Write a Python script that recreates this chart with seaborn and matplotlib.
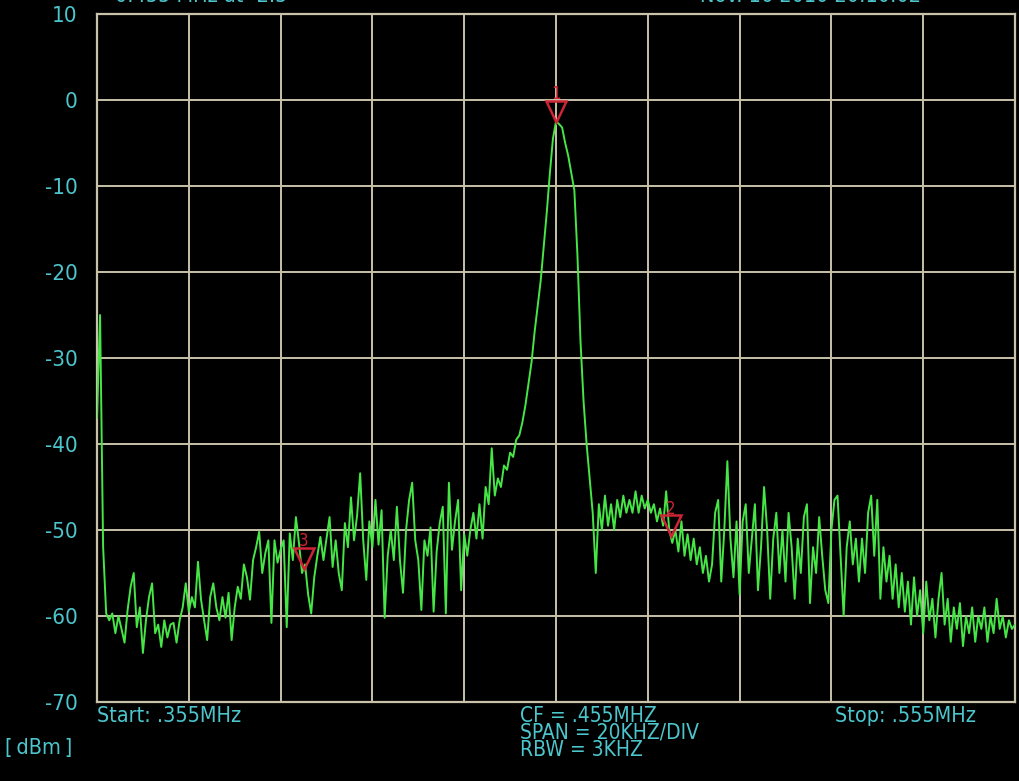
import numpy as np
import pandas as pd
import seaborn as sns
import matplotlib
matplotlib.use("Agg")
import matplotlib.pyplot as plt
from matplotlib.markers import MarkerStyle
from matplotlib.transforms import Affine2D

# Sweep settings (MHz)
start_mhz = 0.355
stop_mhz = 0.555
n_points = 301

# Measured level per sweep point (dBm)
level_dbm = [
    -37, -25, -52, -59.7, -60.5, -59.7, -62, -60, -61.5, -63.1,
    -59.3, -56.6, -55, -61.3, -59, -64.3, -60.5, -57.8, -56.2, -62,
    -61, -63.6, -60.5, -62.5, -61, -60.8, -63.1, -60.5, -59, -56.2,
    -59.5, -57.8, -59, -53.7, -58.1, -60.5, -62.8, -57.8, -56.2, -59,
    -60.5, -57.8, -60.2, -57.3, -62.8, -59, -56.6, -58, -54, -55.5,
    -58.1, -53.5, -52, -50.2, -55, -52.7, -51.2, -60.8, -51.2, -53.8,
    -52.3, -51.2, -61.3, -50.4, -53.5, -48.5, -51.5, -55, -54, -57.5,
    -59.7, -55.5, -53, -50.8, -53.5, -51, -48.5, -54.3, -51.2, -55,
    -57, -49.2, -52, -46.2, -51.2, -48.3, -43.4, -51.2, -55.8, -49,
    -52, -46.5, -51.7, -47.7, -60.2, -53, -50, -53.5, -47.3, -53.5,
    -57.3, -50, -46.5, -44.5, -51.2, -53.5, -59.3, -51.2, -53, -49.7,
    -59.5, -52.5, -49.2, -47.3, -59.7, -44.5, -52.3, -49, -46.5, -57,
    -50.5, -53, -50, -48, -51, -47, -51, -45, -47, -40.5,
    -46, -44, -45, -42.5, -43, -41, -41.5, -39.5, -39, -37.5,
    -35.5, -33, -30.5, -27, -24, -21, -17, -13, -8.5, -4.5,
    -2.5, -2.8, -3.2, -5, -6.5, -8.5, -10.5, -18, -28, -35,
    -40, -44, -48, -55, -47, -50, -46, -49.5, -47, -50,
    -46.5, -48.5, -46, -48, -46.5, -48, -45.5, -48, -46, -47.5,
    -46.5, -48, -47, -49, -47.5, -49.5, -45.5, -50, -51.5, -50,
    -52.5, -49, -53, -50.5, -53.5, -51, -54, -52, -55, -53,
    -56, -54, -48, -46.5, -56, -50, -42, -51, -55.5, -49,
    -57.5, -49, -47, -55, -51, -47, -57, -52, -45, -50,
    -58, -51, -48, -55, -50, -56, -48, -52, -58, -51,
    -55, -48.5, -47, -58.5, -52, -55, -48.5, -53, -57, -58.5,
    -50, -46.5, -46, -53, -60, -52, -49, -54, -51, -56,
    -51, -55, -48, -46, -53, -46.5, -58, -52, -56, -53,
    -58, -54, -59, -55, -59.5, -56, -61, -55.5, -60, -57,
    -62, -56, -60.5, -58, -62.5, -58, -55, -61, -58, -63,
    -59, -61.5, -58.5, -63.5, -60, -62, -59, -63, -60, -61.5,
    -59, -63, -60, -62, -58, -61.5, -60, -62.5, -60.5, -61.5,
    -61,
]

# Marker frequencies (MHz) and their labels
marker_mhz = [0.455, 0.480, 0.400]
marker_names = ["1", "2", "3"]

y_ticks = [10, 0, -10, -20, -30, -40, -50, -60, -70]
y_tick_labels = ["10", "0", "-10", "-20", "-30", "-40", "-50", "-60", "-70"]

# Sweep settings readout under the graticule
settings_lines = ["CF = .455MHZ", "SPAN = 20KHZ/DIV", "RBW = 3KHZ"]

BG = "#000000"
GRID = "#c9c2aa"
TRACE = "#46e646"
TEXT = "#4cc6cc"
MARK = "#cf2336"

sns.set_theme(style="dark")
plt.rcParams["font.family"] = ["DejaVu Sans"]
plt.rcParams["font.stretch"] = "condensed"

freq = np.linspace(start_mhz, stop_mhz, n_points)
trace = pd.DataFrame({"freq": freq, "level": level_dbm})

W, H = 1020, 781
fig = plt.figure(figsize=(W / 100, H / 100), dpi=100, facecolor=BG)
ax = fig.add_axes([97 / W, 1 - 702 / H, 918 / W, 688 / H])
ax.set_facecolor(BG)

sns.lineplot(data=trace, x="freq", y="level", ax=ax, color=TRACE,
             linewidth=1.4, estimator=None, sort=False, zorder=3)

# Markers: open red triangles sitting on the trace, number above
tri = MarkerStyle("v", fillstyle="none", transform=Affine2D().translate(0, 0.5))
marker_level = np.interp(marker_mhz, freq, level_dbm)
ax.plot(marker_mhz, marker_level, linestyle="none", marker=tri,
        markersize=15, markeredgecolor=MARK, markeredgewidth=1.8, zorder=4)
for f, lv, name in zip(marker_mhz, marker_level, marker_names):
    ax.annotate(name, (f, lv), xytext=(0, 20), textcoords="offset points",
                ha="center", va="center", color=MARK, fontsize=12, zorder=5)

ax.set_xlim(start_mhz, stop_mhz)
ax.set_ylim(-70, 10)
ax.set_xticks(np.linspace(start_mhz, stop_mhz, 11))
ax.set_xticklabels([])
ax.set_yticks(y_ticks)
ax.set_yticklabels(y_tick_labels)
ax.tick_params(axis="both", length=0)
ax.tick_params(axis="y", pad=14, labelcolor=TEXT, labelsize=16)
ax.set_xlabel("")
ax.set_ylabel("")
ax.grid(True, color=GRID, linewidth=1.4)
for s in ax.spines.values():
    s.set_visible(True)
    s.set_color(GRID)
    s.set_linewidth(1.6)


def ftext(x, y, s, size=15.5, **kw):
    fig.text(x / W, 1 - y / H, s, color=TEXT, fontsize=size, va="center", **kw)


ftext(97, 716, "Start: .355MHz")
ftext(520, 733, "\n".join(settings_lines), size=15, linespacing=0.82)
ftext(835, 716, "Stop: .555MHz")
ftext(5, 748, "[\u2009dBm\u2009]")
ftext(115, -4, "0.455 MHz at -2.5")
ftext(700, -4, "Nov. 16 2010 20:10:02")

fig.savefig("out.png", dpi=100, facecolor=BG)
